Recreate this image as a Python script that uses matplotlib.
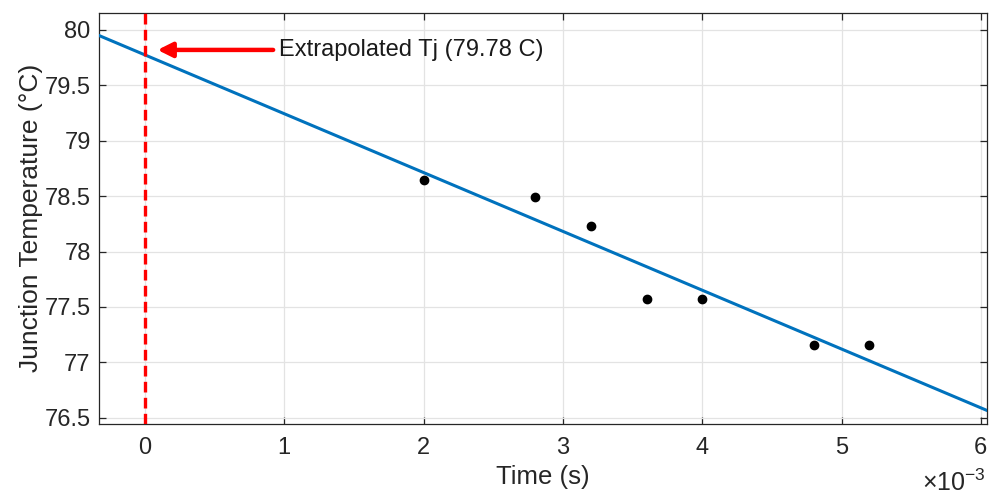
import numpy as np
import matplotlib
matplotlib.use("Agg")
import matplotlib.pyplot as plt

plt.rcParams['font.family'] = ['Liberation Sans', 'DejaVu Sans']
plt.rcParams['mathtext.fontset'] = 'custom'
plt.rcParams['mathtext.rm'] = 'Liberation Sans'
plt.rcParams['mathtext.it'] = 'Liberation Sans:italic'

time_ms = [2.0, 2.8, 3.2, 3.6, 4.0, 4.8, 5.2]
temps = [78.65, 78.49, 78.23, 77.57, 77.57, 77.16, 77.16]
xticks = [0, 1, 2, 3, 4, 5, 6]
yticks = [76.5, 77, 77.5, 78, 78.5, 79, 79.5, 80]
tj_label = "Extrapolated Tj (79.78 C)"

x = np.array(time_ms) * 1e-3
y = np.array(temps)
slope, intercept = np.polyfit(x, y, 1)

xmin, xmax = -0.33e-3, 6.044e-3
fig = plt.figure(figsize=(9.95, 4.95), dpi=100)
ax = fig.add_axes([99/995, 1 - 424/495, (987-99)/995, (424-12.7)/495])

xx = np.array([xmin, xmax])
ax.plot(xx, slope*xx + intercept, color='#0072BD', lw=2.2, zorder=3)
ax.scatter(x, y, s=36, color='black', zorder=4)
ax.axvline(0, color='#FF0000', ls=(0, (3.2, 1.6)), lw=2.4, zorder=3)

ax.annotate('', xy=(0.09e-3, 79.82), xytext=(0.92e-3, 79.82),
            arrowprops=dict(arrowstyle='-|>', color='#FF0000', lw=3.2,
                            mutation_scale=22, shrinkA=0, shrinkB=0), zorder=5)
ax.text(0.965e-3, 79.82, tj_label, fontsize=17, va='center', ha='left', color='#1a1a1a')

ax.set_xlim(xmin, xmax)
ax.set_ylim(76.443, 80.156)
ax.set_xticks(np.array(xticks) * 1e-3)
ax.set_xticklabels([str(t) for t in xticks])
ax.set_yticks(yticks)
ax.set_yticklabels([f"{t:g}" for t in yticks])
ax.grid(True, color='#e3e3e3', lw=0.9)
ax.set_axisbelow(True)
for s in ax.spines.values():
    s.set_color('#262626')
    s.set_linewidth(0.9)
ax.tick_params(direction='in', top=True, right=True, length=5, width=0.9,
               colors='#262626', labelsize=17, pad=9)
ax.tick_params(axis='y', pad=6)
ax.set_xlabel('Time (s)', fontsize=18.5, color='#262626', labelpad=5)
ax.set_ylabel('Junction Temperature (°C)', fontsize=19, color='#262626', labelpad=1)
fig.text(986/995, 1 - 491/495, '×10$^{-3}$', fontsize=18, ha='right', va='baseline',
         color='#262626')

fig.savefig('out.png', dpi=100)
